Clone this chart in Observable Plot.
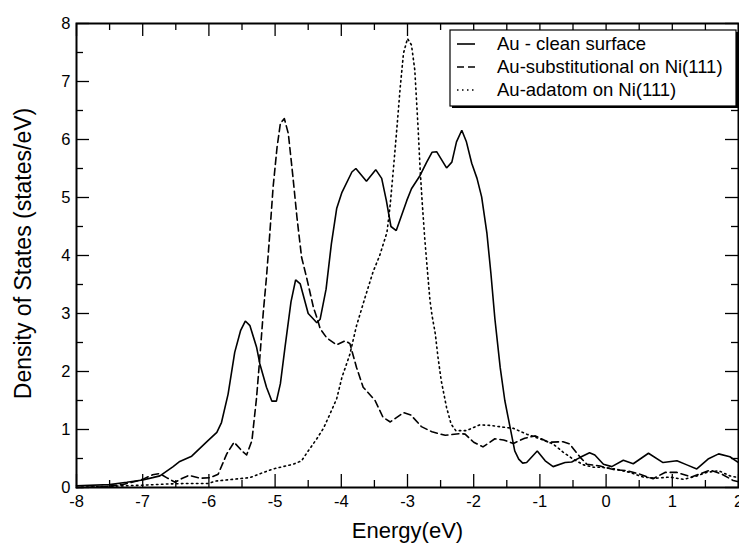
<!DOCTYPE html>
<html>
<head>
<meta charset="utf-8">
<script src="https://cdn.jsdelivr.net/npm/d3@7"></script>
<script src="https://cdn.jsdelivr.net/npm/@observablehq/plot@0.6"></script>
<style>
  html, body { margin: 0; padding: 0; background: #fff; }
  #chart { width: 739px; height: 550px; }
</style>
</head>
<body>
<div id="chart"></div>
<script>
// ---- data (Energy eV, DOS states/eV) ----
const cleanSurface = [
  [-8,0.03],[-7.5,0.05],[-7.24,0.09],[-7.0,0.13],[-6.85,0.17],[-6.74,0.2],[-6.54,0.36],[-6.44,0.45],[-6.26,0.54],
  [-6.03,0.79],[-5.88,0.95],[-5.81,1.12],[-5.71,1.61],[-5.61,2.33],[-5.52,2.71],[-5.45,2.87],[-5.38,2.79],
  [-5.28,2.42],[-5.23,2.13],[-5.13,1.73],[-5.05,1.49],[-4.98,1.49],[-4.92,1.79],[-4.85,2.42],[-4.76,3.2],
  [-4.69,3.58],[-4.62,3.51],[-4.5,3.0],[-4.45,2.94],[-4.37,2.84],[-4.32,2.9],[-4.23,3.42],[-4.15,4.2],
  [-4.07,4.81],[-3.99,5.09],[-3.84,5.44],[-3.78,5.5],[-3.62,5.28],[-3.48,5.48],[-3.39,5.33],[-3.32,4.95],
  [-3.25,4.5],[-3.17,4.43],[-3.09,4.69],[-3.01,4.95],[-2.94,5.15],[-2.81,5.38],[-2.71,5.61],[-2.63,5.78],
  [-2.56,5.79],[-2.41,5.51],[-2.33,5.61],[-2.26,5.96],[-2.18,6.16],[-2.11,5.96],[-2.03,5.59],[-1.95,5.33],
  [-1.88,5.01],[-1.8,4.38],[-1.74,3.69],[-1.68,2.91],[-1.6,2.07],[-1.53,1.5],[-1.48,1.21],[-1.38,0.63],
  [-1.32,0.49],[-1.26,0.42],[-1.2,0.43],[-1.04,0.63],[-0.92,0.46],[-0.8,0.36],[-0.62,0.43],[-0.52,0.44],
  [-0.39,0.52],[-0.25,0.6],[-0.17,0.56],[-0.04,0.4],[0.085,0.36],[0.26,0.47],[0.41,0.41],[0.64,0.59],
  [0.86,0.43],[1.07,0.46],[1.22,0.39],[1.37,0.32],[1.54,0.49],[1.7,0.58],[1.87,0.53],[2.0,0.43]
];
const substitutional = [
  [-8,0.0],[-7.6,0.01],[-7.3,0.05],[-7.0,0.14],[-6.85,0.22],[-6.74,0.24],[-6.64,0.17],[-6.51,0.09],
  [-6.4,0.16],[-6.3,0.21],[-6.13,0.16],[-5.98,0.17],[-5.86,0.23],[-5.73,0.58],[-5.62,0.78],[-5.5,0.63],
  [-5.43,0.56],[-5.35,0.81],[-5.28,1.55],[-5.23,2.25],[-5.18,3.0],[-5.13,3.63],[-5.08,4.38],[-5.03,5.18],
  [-4.97,5.87],[-4.92,6.28],[-4.86,6.36],[-4.8,6.1],[-4.73,5.35],[-4.67,4.66],[-4.6,3.97],[-4.52,3.6],
  [-4.42,3.1],[-4.36,2.9],[-4.32,2.74],[-4.22,2.58],[-4.07,2.46],[-3.94,2.53],[-3.87,2.48],[-3.77,2.07],
  [-3.67,1.73],[-3.49,1.5],[-3.37,1.21],[-3.26,1.13],[-3.06,1.29],[-2.95,1.25],[-2.79,1.05],[-2.63,0.96],
  [-2.43,0.9],[-2.2,0.93],[-2.13,0.92],[-2.0,0.78],[-1.86,0.7],[-1.68,0.84],[-1.55,0.82],[-1.4,0.76],
  [-1.23,0.85],[-1.07,0.89],[-0.87,0.78],[-0.65,0.79],[-0.55,0.75],[-0.39,0.52],[-0.29,0.4],[-0.09,0.37],
  [0.11,0.31],[0.31,0.29],[0.51,0.23],[0.71,0.15],[0.89,0.26],[1.07,0.26],[1.29,0.18],[1.57,0.3],
  [1.75,0.23],[1.92,0.12],[2.0,0.1]
];
const adatom = [
  [-8,0.0],[-7.5,0.02],[-7.0,0.04],[-6.64,0.06],[-6.34,0.07],[-6.01,0.07],[-5.9,0.11],[-5.64,0.14],
  [-5.38,0.17],[-5.2,0.25],[-5.03,0.32],[-4.73,0.4],[-4.6,0.46],[-4.5,0.63],[-4.37,0.84],[-4.27,1.02],
  [-4.17,1.27],[-4.07,1.53],[-3.99,1.9],[-3.87,2.3],[-3.77,2.79],[-3.64,3.28],[-3.52,3.72],[-3.42,4.0],
  [-3.31,4.4],[-3.26,4.89],[-3.21,5.53],[-3.16,6.2],[-3.11,6.9],[-3.06,7.49],[-3.0,7.74],[-2.94,7.63],
  [-2.89,7.2],[-2.84,6.2],[-2.81,5.5],[-2.78,4.95],[-2.74,4.3],[-2.7,3.75],[-2.66,3.22],[-2.63,2.97],
  [-2.58,2.65],[-2.54,2.25],[-2.49,1.84],[-2.41,1.38],[-2.34,1.09],[-2.27,0.98],[-2.11,0.98],[-1.91,1.08],
  [-1.75,1.07],[-1.55,1.04],[-1.4,1.02],[-1.2,0.92],[-1.0,0.84],[-0.8,0.75],[-0.65,0.61],[-0.5,0.49],
  [-0.34,0.39],[-0.19,0.35],[-0.09,0.35],[0.13,0.32],[0.36,0.26],[0.56,0.18],[0.76,0.16],[0.96,0.18],
  [1.17,0.14],[1.37,0.2],[1.52,0.26],[1.7,0.29],[1.87,0.2],[2.0,0.17]
];
const seriesNames = ["Au - clean surface", "Au-substitutional on Ni(111)", "Au-adatom on Ni(111)"];
const xTicks = [-8, -7, -6, -5, -4, -3, -2, -1, 0, 1, 2];
const yTicks = [0, 1, 2, 3, 4, 5, 6, 7, 8];
const xMinorTicks = [-7.5, -6.5, -5.5, -4.5, -3.5, -2.5, -1.5, -0.5, 0.5, 1.5];
const yMinorTicks = [0.5, 1.5, 2.5, 3.5, 4.5, 5.5, 6.5, 7.5];
const xLabel = "Energy(eV)";
const yLabel = "Density of States (states/eV)";

// ---- layout ----
const W = 739, H = 550, mL = 76, mR = 1, mT = 23, mB = 63;
const iw = W - mL - mR, ih = H - mT - mB;
const majorLen = 13, minorLen = 7;
const dashes = [null, "7,4", "1.5,3.5"];
const toRows = arr => arr.map(([e, d]) => ({e, d}));
const FONT = "'Liberation Sans', Arial, Helvetica, sans-serif";

const tickStyle = {stroke: "#000", strokeWidth: 1.3};

const plot = Plot.plot({
  width: W, height: H,
  marginLeft: mL, marginRight: mR, marginTop: mT, marginBottom: mB,
  style: {fontFamily: FONT, fontSize: "16px", color: "#000", background: "#fff", overflow: "visible"},
  x: {domain: [-8, 2]},
  y: {domain: [0, 8]},
  marks: [
    // inward ticks on all four sides
    Plot.tickX(xTicks, {x: d => d, insetTop: ih - majorLen, ...tickStyle}),
    Plot.tickX(xTicks, {x: d => d, insetBottom: ih - majorLen, ...tickStyle}),
    Plot.tickX(xMinorTicks, {x: d => d, insetTop: ih - minorLen, ...tickStyle}),
    Plot.tickX(xMinorTicks, {x: d => d, insetBottom: ih - minorLen, ...tickStyle}),
    Plot.tickY(yTicks, {y: d => d, insetRight: iw - majorLen, ...tickStyle}),
    Plot.tickY(yTicks, {y: d => d, insetLeft: iw - majorLen, ...tickStyle}),
    Plot.tickY(yMinorTicks, {y: d => d, insetRight: iw - minorLen, ...tickStyle}),
    Plot.tickY(yMinorTicks, {y: d => d, insetLeft: iw - minorLen, ...tickStyle}),
    Plot.axisX({ticks: xTicks, tickSize: 0, tickPadding: 8, tickFormat: d => String(d), fontSize: 16.5, label: null}),
    Plot.axisY({ticks: yTicks, tickSize: 0, tickPadding: 6, tickFormat: d => String(d), fontSize: 16.5, label: null}),
    // curves
    Plot.line(toRows(cleanSurface), {x: "e", y: "d", stroke: "#000", strokeWidth: 1.6, strokeLinejoin: "miter"}),
    Plot.line(toRows(substitutional), {x: "e", y: "d", stroke: "#000", strokeWidth: 1.6, strokeDasharray: dashes[1]}),
    Plot.line(toRows(adatom), {x: "e", y: "d", stroke: "#000", strokeWidth: 1.6, strokeDasharray: dashes[2]}),
    Plot.frame({stroke: "#000", strokeWidth: 2}),
    // axis titles
    Plot.text([xLabel], {text: d => d, frameAnchor: "bottom", textAnchor: "middle", dy: 50, fontSize: 22, fill: "#000"}),
    Plot.text([yLabel], {text: d => d, frameAnchor: "left", textAnchor: "middle", dx: -53, dy: -2, rotate: -90, fontSize: 23, fill: "#000"})
  ]
});

// ---- legend (xmgrace-style box with shadow) ----
const svg = d3.select(plot);
const lg = svg.append("g").attr("font-family", FONT).attr("font-size", 18.5).attr("text-anchor", "start");
const bx = 450, by = 30, bw = 286, bh = 76;
lg.append("rect").attr("x", bx + 2).attr("y", by + 2).attr("width", bw).attr("height", bh).attr("fill", "#000");
lg.append("rect").attr("x", bx).attr("y", by).attr("width", bw).attr("height", bh)
  .attr("fill", "#fff").attr("stroke", "#000").attr("stroke-width", 1.2);
seriesNames.forEach((name, i) => {
  const yy = by + 14 + i * 23;
  lg.append("line").attr("x1", bx + 7).attr("x2", bx + 25).attr("y1", yy).attr("y2", yy)
    .attr("stroke", "#000").attr("stroke-width", 1.6)
    .attr("stroke-dasharray", dashes[i]);
  lg.append("text").attr("x", bx + 47).attr("y", yy).attr("dy", "0.35em")
    .attr("text-anchor", "start").attr("fill", "#000").text(name);
});

document.getElementById("chart").appendChild(plot);
</script>
</body>
</html>
